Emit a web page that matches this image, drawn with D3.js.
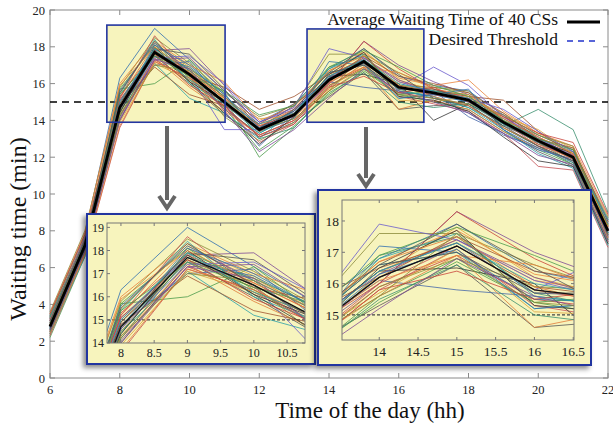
<!DOCTYPE html>
<html>
<head>
<meta charset="utf-8">
<script src="https://cdn.jsdelivr.net/npm/d3@7"></script>
<style>
  body { margin: 0; background: #fff; }
  text { font-family: "Liberation Serif", "DejaVu Serif", serif; }
</style>
</head>
<body>
<div id="chart"></div>
<script>
var width = 613;
var height = 425;

// hours of the day, one point per hour
var hours = [6, 7, 8, 9, 10, 11, 12, 13, 14, 15, 16, 17, 18, 19, 20, 21, 22];

// average waiting time of the 40 charging stations (min)
var avgWait = [2.8, 7.2, 14.7, 17.7, 16.5, 15.0, 13.5, 14.3, 16.2, 17.2, 15.8, 15.5, 15.1, 13.9, 12.9, 12.0, 8.0];

var threshold = 15;

// waiting time of each charging station (min)
var csWait = [
    [3.1, 7.4, 15.2, 18.1, 16.8, 15.3, 13.8, 14.5, 16.4, 17.4, 16.1, 15.7, 15.3, 14.1, 13.1, 12.2, 8.3],
    [2.5, 6.9, 14.2, 17.3, 16.2, 14.7, 13.2, 14.0, 15.9, 16.9, 15.5, 15.2, 14.8, 13.6, 12.6, 11.8, 7.7],
    [3.4, 7.8, 16.3, 19.0, 17.3, 15.6, 13.9, 14.9, 16.8, 17.9, 16.4, 15.9, 15.6, 14.3, 13.2, 12.4, 8.6],
    [2.2, 6.6, 15.7, 16.0, 17.3, 15.2, 12.0, 13.6, 15.6, 16.8, 15.4, 15.0, 14.6, 13.4, 12.4, 11.6, 7.3],
    [3.0, 7.3, 15.0, 17.8, 17.9, 15.9, 13.7, 14.2, 16.0, 18.3, 17.0, 16.1, 15.4, 14.2, 13.0, 12.1, 8.1],
    [2.7, 7.0, 14.5, 17.1, 15.2, 14.4, 13.0, 14.6, 16.6, 17.0, 15.2, 15.4, 15.0, 13.8, 12.8, 11.9, 7.9],
    [3.6, 8.0, 15.8, 18.5, 17.1, 15.5, 14.2, 14.8, 17.6, 17.6, 16.6, 15.8, 15.5, 14.0, 12.7, 12.3, 8.5],
    [2.4, 6.8, 14.0, 17.5, 16.0, 14.3, 13.1, 13.9, 15.3, 16.6, 14.6, 14.8, 14.9, 13.5, 12.3, 11.5, 7.5],
    [2.9, 7.1, 15.5, 18.2, 16.9, 15.1, 13.4, 14.1, 16.3, 17.8, 16.2, 15.6, 15.2, 14.4, 13.3, 12.5, 8.2],
    [3.2, 7.6, 14.8, 17.0, 17.2, 14.9, 12.6, 14.4, 16.1, 15.8, 15.6, 15.3, 14.4, 13.2, 12.5, 11.7, 7.8],
    [2.6, 7.2, 14.9, 17.6, 16.4, 15.8, 14.6, 15.3, 16.5, 17.3, 15.9, 15.6, 15.3, 15.1, 13.4, 12.1, 8.0],
    [3.3, 7.5, 14.4, 17.9, 16.7, 14.6, 13.3, 14.3, 16.9, 17.5, 15.7, 15.2, 14.7, 13.7, 14.6, 13.5, 9.0],
    [2.3, 6.7, 13.6, 17.2, 16.3, 14.8, 12.8, 13.8, 15.8, 17.1, 15.3, 14.9, 14.5, 13.3, 11.5, 11.3, 7.1],
    [3.0, 7.3, 15.1, 17.7, 16.5, 13.5, 13.5, 14.2, 16.2, 17.2, 15.8, 16.9, 15.9, 14.2, 13.1, 12.0, 8.1],
    [2.8, 7.0, 14.6, 18.0, 16.1, 15.0, 13.6, 14.5, 16.4, 16.5, 16.0, 14.0, 14.9, 13.9, 12.9, 12.2, 7.8],
    [3.5, 7.9, 16.0, 18.3, 17.0, 16.1, 14.0, 14.7, 16.7, 17.7, 16.3, 15.9, 16.2, 14.5, 13.3, 12.6, 8.8],
    [2.5, 6.8, 14.3, 17.4, 15.8, 14.5, 13.2, 14.0, 15.6, 16.9, 14.6, 15.1, 14.6, 13.4, 12.5, 11.8, 7.4],
    [3.1, 7.4, 15.3, 17.8, 16.6, 15.2, 13.7, 14.4, 16.0, 18.3, 16.8, 15.7, 15.2, 13.8, 12.8, 11.9, 8.2],
    [2.7, 7.1, 14.7, 17.5, 16.9, 15.4, 13.4, 14.1, 17.2, 17.0, 15.5, 15.4, 15.0, 14.1, 13.0, 12.3, 7.9],
    [2.9, 7.2, 15.7, 18.1, 16.3, 14.7, 12.4, 13.7, 15.4, 16.7, 15.4, 15.6, 15.4, 13.6, 12.6, 11.6, 8.4],
    [3.2, 7.6, 14.1, 17.3, 17.4, 15.6, 13.9, 14.6, 16.3, 17.4, 16.2, 15.5, 15.1, 14.3, 12.7, 12.1, 7.6],
    [2.4, 6.6, 15.4, 18.4, 16.0, 14.9, 13.3, 14.3, 16.8, 17.6, 15.6, 15.3, 14.7, 13.5, 12.2, 11.4, 7.2],
    [3.4, 7.7, 14.5, 17.6, 16.5, 14.2, 12.9, 13.9, 15.9, 16.8, 15.9, 15.8, 15.6, 14.0, 13.2, 12.4, 8.7],
    [2.6, 7.0, 14.9, 17.9, 17.6, 15.7, 13.6, 14.8, 16.6, 17.9, 16.5, 15.2, 14.8, 13.7, 12.9, 12.0, 8.0],
    [3.0, 7.4, 13.9, 17.1, 16.2, 15.1, 14.1, 14.2, 15.7, 17.1, 15.1, 15.0, 15.3, 14.2, 13.5, 12.2, 8.3],
    [2.8, 7.3, 15.6, 18.2, 16.7, 15.3, 13.5, 14.5, 16.4, 17.3, 15.7, 15.6, 14.2, 13.3, 12.4, 11.9, 7.7],
    [3.3, 7.5, 14.8, 16.9, 15.4, 14.8, 13.8, 14.9, 16.2, 17.5, 16.4, 16.0, 15.5, 14.4, 13.0, 12.5, 8.5],
    [2.5, 6.9, 14.2, 17.7, 16.8, 15.5, 13.0, 13.6, 15.5, 16.6, 15.0, 14.7, 14.9, 13.8, 12.8, 11.7, 7.5],
    [2.9, 7.2, 15.2, 18.6, 16.4, 14.6, 13.2, 14.0, 16.0, 17.2, 15.8, 15.4, 15.1, 13.9, 12.6, 12.1, 8.1],
    [3.1, 7.6, 14.6, 17.4, 17.5, 16.0, 13.9, 14.7, 17.9, 17.4, 16.1, 15.5, 15.2, 14.6, 13.4, 12.3, 8.4],
    [2.7, 7.0, 14.4, 17.8, 16.1, 14.4, 12.7, 14.2, 16.5, 17.7, 15.3, 15.1, 14.5, 13.1, 11.8, 11.5, 7.3],
    [3.2, 7.5, 15.9, 18.0, 16.6, 15.2, 13.4, 14.4, 16.1, 16.9, 16.6, 15.7, 15.4, 14.1, 13.1, 12.2, 8.2],
    [2.4, 6.7, 13.7, 17.2, 16.3, 15.0, 13.7, 14.6, 16.7, 17.5, 15.9, 15.3, 14.8, 13.6, 12.7, 11.9, 7.6],
    [3.5, 7.8, 15.1, 17.6, 15.9, 14.8, 13.1, 13.8, 15.8, 16.4, 15.5, 15.8, 15.0, 14.2, 13.3, 12.8, 8.9],
    [2.8, 7.1, 14.7, 18.1, 17.0, 15.4, 13.6, 14.3, 16.3, 17.1, 15.2, 15.4, 15.7, 13.5, 12.5, 11.8, 7.9],
    [3.0, 7.3, 15.4, 17.5, 16.4, 15.6, 14.3, 14.8, 16.9, 17.8, 16.9, 15.9, 15.3, 14.0, 13.0, 12.4, 8.3],
    [2.6, 6.9, 14.0, 17.3, 16.8, 14.5, 12.3, 13.5, 15.2, 16.8, 15.6, 15.0, 14.4, 13.3, 12.1, 11.6, 7.4],
    [3.3, 7.4, 15.0, 17.9, 16.2, 15.1, 13.8, 14.4, 16.4, 17.3, 16.0, 15.6, 15.2, 13.8, 12.9, 12.0, 8.6],
    [2.9, 7.2, 14.3, 17.0, 16.7, 15.3, 13.5, 14.1, 15.6, 17.6, 15.4, 15.2, 14.9, 14.3, 13.2, 12.6, 7.8],
    [3.1, 7.5, 15.5, 18.3, 16.5, 14.9, 13.4, 14.6, 16.6, 17.0, 15.7, 15.7, 15.1, 13.7, 12.6, 11.8, 8.0]
];

var lineColors = ["#e07b39", "#c8423a", "#2f6fb0", "#4a9a4a", "#7d4a96", "#2aa0a8", "#8a8a3a", "#555555",
    "#d9a13b", "#4466aa", "#a0522d", "#3a8f6f", "#c44e52", "#6a5acd", "#333333", "#e8833a"];

var xTicks = [6, 8, 10, 12, 14, 16, 18, 20, 22];
var yTicks = [0, 2, 4, 6, 8, 10, 12, 14, 16, 18, 20];
var zoom1XTicks = [8, 8.5, 9, 9.5, 10, 10.5];
var zoom1YTicks = [14, 15, 16, 17, 18, 19];
var zoom2XTicks = [14, 14.5, 15, 15.5, 16, 16.5];
var zoom2YTicks = [15, 16, 17, 18];

// highlighted regions in data units
var region1 = { x0: 7.63, x1: 11.02, y0: 13.9, y1: 19.18 };
var region2 = { x0: 13.37, x1: 16.72, y0: 13.9, y1: 18.97 };

var margin = { left: 50, top: 10, right: 5, bottom: 47 };
var plotW = width - margin.left - margin.right;
var plotH = height - margin.top - margin.bottom;

var xScale = d3.scaleLinear().domain([6, 22]).range([margin.left, margin.left + plotW]);
var yScale = d3.scaleLinear().domain([0, 20]).range([margin.top + plotH, margin.top]);

var svg = d3.select("#chart").append("svg")
    .attr("width", width)
    .attr("height", height);

var defs = svg.append("defs");
var shadow = defs.append("filter").attr("id", "shadow")
    .attr("x", "-10%").attr("y", "-10%").attr("width", "120%").attr("height", "125%");
shadow.append("feDropShadow")
    .attr("dx", -3).attr("dy", 3).attr("stdDeviation", 2.5)
    .attr("flood-color", "#000").attr("flood-opacity", 0.45);

var yellow = "#f7f4bd";
var boxBlue = "#2436a0";

function seriesPoints(values) {
    return values.map((v, i) => [hours[i], v]);
}

// main highlight regions (fill under the lines)
[region1, region2].forEach(r => {
    svg.append("rect")
        .attr("x", xScale(r.x0)).attr("y", yScale(r.y1))
        .attr("width", xScale(r.x1) - xScale(r.x0))
        .attr("height", yScale(r.y0) - yScale(r.y1))
        .attr("fill", yellow);
});

// frame and ticks
svg.append("rect")
    .attr("x", margin.left).attr("y", margin.top)
    .attr("width", plotW).attr("height", plotH)
    .attr("fill", "none").attr("stroke", "#8a8a8a").attr("stroke-width", 1);

var tickG = svg.append("g").attr("stroke", "#8a8a8a").attr("stroke-width", 1);
xTicks.forEach(t => {
    tickG.append("line").attr("x1", xScale(t)).attr("x2", xScale(t))
        .attr("y1", yScale(0)).attr("y2", yScale(0) - 5);
    tickG.append("line").attr("x1", xScale(t)).attr("x2", xScale(t))
        .attr("y1", yScale(20)).attr("y2", yScale(20) + 5);
});
yTicks.forEach(t => {
    tickG.append("line").attr("x1", xScale(6)).attr("x2", xScale(6) + 5)
        .attr("y1", yScale(t)).attr("y2", yScale(t));
    tickG.append("line").attr("x1", xScale(22)).attr("x2", xScale(22) - 5)
        .attr("y1", yScale(t)).attr("y2", yScale(t));
});

svg.append("g").selectAll("text").data(xTicks).enter().append("text")
    .attr("x", d => xScale(d)).attr("y", yScale(0) + 16)
    .attr("text-anchor", "middle").attr("font-size", 12.5).attr("fill", "#222")
    .text(d => d);
svg.append("g").selectAll("text").data(yTicks).enter().append("text")
    .attr("x", xScale(6) - 5).attr("y", d => yScale(d) + 4.5)
    .attr("text-anchor", "end").attr("font-size", 12.5).attr("fill", "#222")
    .text(d => d);

svg.append("text")
    .attr("x", 370).attr("y", 418)
    .attr("text-anchor", "middle").attr("font-size", 23).attr("fill", "#111")
    .text("Time of the day (hh)");
svg.append("text")
    .attr("transform", "translate(26,229) rotate(-90)")
    .attr("text-anchor", "middle").attr("font-size", 24).attr("fill", "#111")
    .text("Waiting time (min)");

// threshold
svg.append("line")
    .attr("x1", xScale(6)).attr("x2", xScale(22))
    .attr("y1", yScale(threshold)).attr("y2", yScale(threshold))
    .attr("stroke", "#000").attr("stroke-width", 1.5).attr("stroke-dasharray", "7,5");

var line = d3.line().x(d => xScale(d[0])).y(d => yScale(d[1]));

svg.append("g").selectAll("path").data(csWait).enter().append("path")
    .attr("d", d => line(seriesPoints(d)))
    .attr("fill", "none")
    .attr("stroke", (d, i) => lineColors[i % lineColors.length])
    .attr("stroke-width", 0.8);

svg.append("path")
    .attr("d", line(seriesPoints(avgWait)))
    .attr("fill", "none").attr("stroke", "#000").attr("stroke-width", 2.8);

// region borders on top
[region1, region2].forEach(r => {
    svg.append("rect")
        .attr("x", xScale(r.x0)).attr("y", yScale(r.y1))
        .attr("width", xScale(r.x1) - xScale(r.x0))
        .attr("height", yScale(r.y0) - yScale(r.y1))
        .attr("fill", "none").attr("stroke", boxBlue).attr("stroke-width", 1.6);
});

// legend
var legend = svg.append("g");
legend.append("text").attr("x", 558).attr("y", 25)
    .attr("text-anchor", "end").attr("font-size", 17.5).attr("fill", "#111")
    .text("Average Waiting Time of 40 CSs");
legend.append("line").attr("x1", 567).attr("x2", 600).attr("y1", 22).attr("y2", 22)
    .attr("stroke", "#000").attr("stroke-width", 3);
legend.append("text").attr("x", 558).attr("y", 45)
    .attr("text-anchor", "end").attr("font-size", 17.5).attr("fill", "#111")
    .text("Desired Threshold");
legend.append("line").attr("x1", 567).attr("x2", 600).attr("y1", 41).attr("y2", 41)
    .attr("stroke", "#2233cc").attr("stroke-width", 1.5).attr("stroke-dasharray", "6,5");

// arrows
function arrow(x, y0, y1) {
    svg.append("line").attr("x1", x).attr("x2", x).attr("y1", y0).attr("y2", y1 - 8)
        .attr("stroke", "#666").attr("stroke-width", 4);
    svg.append("path")
        .attr("d", `M${x - 8},${y1 - 12} L${x},${y1} L${x + 8},${y1 - 12}`)
        .attr("fill", "none").attr("stroke", "#666").attr("stroke-width", 4)
        .attr("stroke-linejoin", "miter");
}
arrow(167, 126, 208);
arrow(366, 127, 186);

// zoomed insets
function inset(id, outer, plot, xDom, yDom, xt, yt, fs) {
    var g = svg.append("g");
    g.append("rect")
        .attr("x", outer.x).attr("y", outer.y).attr("width", outer.w).attr("height", outer.h)
        .attr("fill", yellow).attr("stroke", boxBlue).attr("stroke-width", 2)
        .attr("filter", "url(#shadow)");

    var ix = d3.scaleLinear().domain(xDom).range([plot.x, plot.x + plot.w]);
    var iy = d3.scaleLinear().domain(yDom).range([plot.y + plot.h, plot.y]);

    defs.append("clipPath").attr("id", id)
        .append("rect").attr("x", plot.x).attr("y", plot.y).attr("width", plot.w).attr("height", plot.h);

    var inner = g.append("g").attr("clip-path", `url(#${id})`);
    inner.append("line")
        .attr("x1", plot.x).attr("x2", plot.x + plot.w)
        .attr("y1", iy(threshold)).attr("y2", iy(threshold))
        .attr("stroke", "#444").attr("stroke-width", 1.2).attr("stroke-dasharray", "3,2");

    var iline = d3.line().x(d => ix(d[0])).y(d => iy(d[1]));
    inner.selectAll("path.cs").data(csWait).enter().append("path")
        .attr("class", "cs")
        .attr("d", d => iline(seriesPoints(d)))
        .attr("fill", "none")
        .attr("stroke", (d, i) => lineColors[i % lineColors.length])
        .attr("stroke-width", 0.8);
    inner.append("path")
        .attr("d", iline(seriesPoints(avgWait)))
        .attr("fill", "none").attr("stroke", "#111").attr("stroke-width", 1.3);

    g.append("rect")
        .attr("x", plot.x).attr("y", plot.y).attr("width", plot.w).attr("height", plot.h)
        .attr("fill", "none").attr("stroke", "#777").attr("stroke-width", 1);

    var tg = g.append("g").attr("stroke", "#777").attr("stroke-width", 1);
    xt.forEach(t => {
        tg.append("line").attr("x1", ix(t)).attr("x2", ix(t))
            .attr("y1", plot.y + plot.h).attr("y2", plot.y + plot.h - 3);
        tg.append("line").attr("x1", ix(t)).attr("x2", ix(t))
            .attr("y1", plot.y).attr("y2", plot.y + 3);
    });
    yt.forEach(t => {
        tg.append("line").attr("x1", plot.x).attr("x2", plot.x + 3)
            .attr("y1", iy(t)).attr("y2", iy(t));
        tg.append("line").attr("x1", plot.x + plot.w).attr("x2", plot.x + plot.w - 3)
            .attr("y1", iy(t)).attr("y2", iy(t));
    });

    g.selectAll("text.xt").data(xt).enter().append("text")
        .attr("class", "xt")
        .attr("x", d => ix(d)).attr("y", plot.y + plot.h + fs + 2)
        .attr("text-anchor", "middle").attr("font-size", fs).attr("fill", "#222")
        .text(d => d);
    g.selectAll("text.yt").data(yt).enter().append("text")
        .attr("class", "yt")
        .attr("x", plot.x - 3).attr("y", d => iy(d) + fs * 0.35)
        .attr("text-anchor", "end").attr("font-size", fs).attr("fill", "#222")
        .text(d => d);
}

inset("clip1",
    { x: 87, y: 214, w: 228, h: 150 },
    { x: 107, y: 223, w: 198, h: 120 },
    [7.79, 10.77], [14, 19.19], zoom1XTicks, zoom1YTicks, 12);

inset("clip2",
    { x: 318, y: 190, w: 273, h: 175 },
    { x: 342, y: 200, w: 232, h: 140 },
    [13.52, 16.51], [14.2, 18.67], zoom2XTicks, zoom2YTicks, 13.5);
</script>
</body>
</html>
